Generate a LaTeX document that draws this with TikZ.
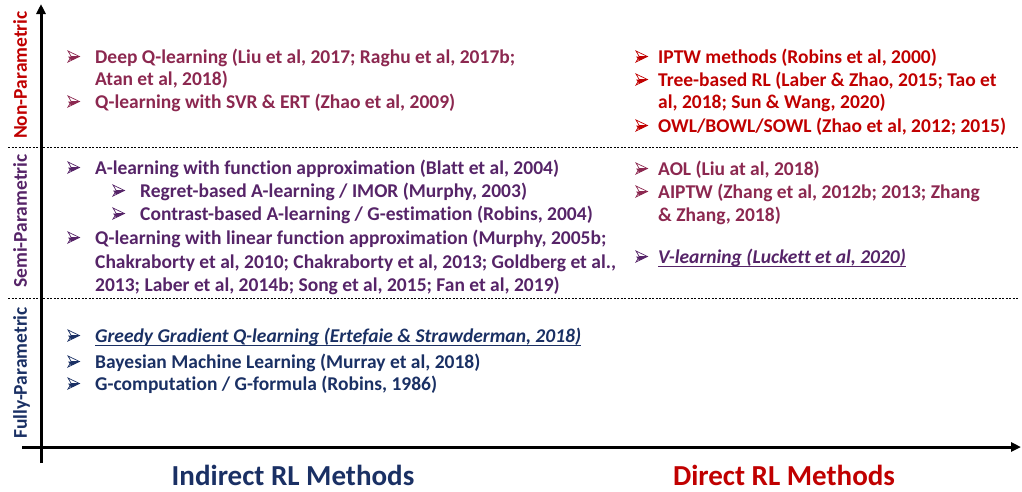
\documentclass[tikz,border=0pt]{standalone}
\usepackage{fontspec}
\setmainfont[Ligatures=CommonOff]{Carlito}
\usetikzlibrary{arrows.meta}
\definecolor{npcol}{RGB}{140,40,80}
\definecolor{dircol}{RGB}{192,0,0}
\definecolor{semicol}{RGB}{86,36,104}
\definecolor{fullcol}{RGB}{26,48,100}
\tikzset{
  txt/.style={anchor=base west, inner sep=0pt, font=\fontsize{19.5}{23}\selectfont\bfseries},
  axlabel/.style={rotate=90, anchor=base, inner sep=0pt, font=\fontsize{19.5}{23}\selectfont\bfseries},
  bigtxt/.style={anchor=base, inner sep=0pt, font=\fontsize{29}{34}\selectfont\bfseries},
  axis/.style={line width=3pt, -{Triangle[length=10pt,width=9pt]}},
  sep/.style={line width=0.8pt, dash pattern=on 2pt off 1.5pt},
  uline/.style={line width=1pt},
  % outlined arrowhead bullet, lower half filled
  pics/arrowbullet/.style={code={
    \fill[#1] (0,-6.5) -- (3.2,-2.5) -- (11.5,-6.5) -- cycle;
    \draw[#1, line width=0.7pt, line join=miter]
      (0,-1) -- (11.5,-6.5) -- (0,-12) -- (3.2,-6.5) -- cycle;
    \draw[#1, line width=0.7pt] (3.2,-6.5) -- (11.5,-6.5);
  }}
}
\begin{document}
\begin{tikzpicture}[x=1pt,y=-1pt]
\useasboundingbox (0,0) rectangle (1022,491);

% axes
\coordinate (ybot) at (41,463);
\coordinate (ytop) at (41,4);
\coordinate (xl) at (22,447);
\coordinate (xr) at (1021,447);
\draw[axis] (ybot) -- (ytop);
\draw[axis] (xl) -- (xr);

% band separators
\coordinate (s1l) at (8,147);  \coordinate (s1r) at (1018,147);
\coordinate (s2l) at (8,298);  \coordinate (s2r) at (1018,298);
\draw[sep] (s1l) -- (s1r);
\draw[sep] (s2l) -- (s2r);

% vertical axis labels
\node[axlabel, text=dircol]  (lnp) at (27,75)  {Non-Parametric};
\node[axlabel, text=semicol] (lsp) at (27,221) {Semi-Parametric};
\node[axlabel, text=fullcol] (lfp) at (27,373) {Fully-Parametric};

% horizontal axis labels
\node[bigtxt, text=fullcol] (lind) at (293,485) {Indirect RL Methods};
\node[bigtxt, text=dircol]  (ldir) at (784,485) {Direct RL Methods};

% non-parametric, indirect
\begin{scope}[every node/.append style={text=npcol}]
\pic at (68,63) {arrowbullet=npcol};
\node[txt] (t1) at (95,63) {Deep Q-learning (Liu et al, 2017; Raghu et al, 2017b;};
\node[txt] (t1b) at (95,85) {Atan et al, 2018)};
\pic at (68,108) {arrowbullet=npcol};
\node[txt] (t2) at (95,108) {Q-learning with SVR \& ERT (Zhao et al, 2009)};
\end{scope}

% non-parametric, direct
\begin{scope}[every node/.append style={text=dircol}]
\pic at (636,63) {arrowbullet=dircol};
\node[txt] (t3) at (658,63) {IPTW methods (Robins et al, 2000)};
\pic at (636,86) {arrowbullet=dircol};
\node[txt] (t4) at (658,86) {Tree-based RL (Laber \& Zhao, 2015; Tao et};
\node[txt] (t4b) at (658,108) {al, 2018; Sun \& Wang, 2020)};
\pic at (636,132) {arrowbullet=dircol};
\node[txt] (t5) at (658,132) {OWL/BOWL/SOWL (Zhao et al, 2012; 2015)};
\end{scope}

% semi-parametric, indirect
\begin{scope}[every node/.append style={text=semicol}]
\pic at (68,174) {arrowbullet=semicol};
\node[txt] (t6) at (95,174) {A-learning with function approximation (Blatt et al, 2004)};
\pic at (113,197) {arrowbullet=semicol};
\node[txt] (t7) at (140,197) {Regret-based A-learning / IMOR (Murphy, 2003)};
\pic at (113,220) {arrowbullet=semicol};
\node[txt] (t8) at (140,220) {Contrast-based A-learning / G-estimation (Robins, 2004)};
\pic at (68,244) {arrowbullet=semicol};
\node[txt] (t9) at (95,244) {Q-learning with linear function approximation (Murphy, 2005b;};
\node[txt] (t9b) at (95,268) {Chakraborty et al, 2010; Chakraborty et al, 2013; Goldberg et al.,};
\node[txt] (t9c) at (95,291) {2013; Laber et al, 2014b; Song et al, 2015; Fan et al, 2019)};
\end{scope}

% semi-parametric, direct
\begin{scope}[every node/.append style={text=npcol}]
\pic at (636,175) {arrowbullet=npcol};
\node[txt] (t10) at (658,175) {AOL (Liu at al, 2018)};
\pic at (636,198) {arrowbullet=npcol};
\node[txt] (t11) at (658,198) {AIPTW (Zhang et al, 2012b; 2013; Zhang};
\node[txt] (t11b) at (658,221) {\& Zhang, 2018)};
\end{scope}
\pic at (636,263) {arrowbullet=semicol};
\node[txt, text=semicol] (t12) at (658,263) {\itshape V-learning (Luckett et al, 2020)};
\draw[uline, semicol] ([yshift=-3pt]t12.base west) -- ([yshift=-3pt]t12.base east);

% fully-parametric, indirect
\begin{scope}[every node/.append style={text=fullcol}]
\pic at (68,342) {arrowbullet=fullcol};
\node[txt] (t13) at (95,342) {\itshape Greedy Gradient Q-learning (Ertefaie \& Strawderman, 2018)};
\pic at (68,368) {arrowbullet=fullcol};
\node[txt] (t14) at (95,368) {Bayesian Machine Learning (Murray et al, 2018)};
\pic at (68,390) {arrowbullet=fullcol};
\node[txt] (t15) at (95,390) {G-computation / G-formula (Robins, 1986)};
\end{scope}
\draw[uline, fullcol] ([yshift=-3pt]t13.base west) -- ([yshift=-3pt]t13.base east);
\end{tikzpicture}
\end{document}
